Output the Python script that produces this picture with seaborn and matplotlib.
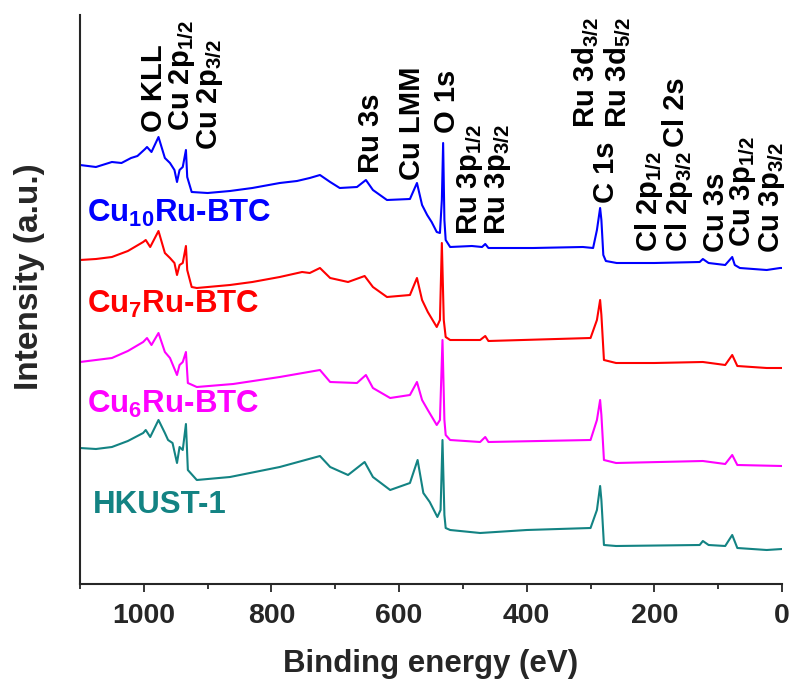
import matplotlib
matplotlib.use("Agg")
import matplotlib.pyplot as plt
import seaborn as sns
import pandas as pd
from matplotlib.ticker import MultipleLocator

sns.set_style("ticks")
plt.rcParams['font.family'] = ['Liberation Sans', 'DejaVu Sans']
plt.rcParams['font.weight'] = 'bold'
plt.rcParams['mathtext.fontset'] = 'custom'
plt.rcParams['mathtext.rm'] = 'Liberation Sans:bold'
plt.rcParams['mathtext.it'] = 'Liberation Sans:bold'
plt.rcParams['mathtext.bf'] = 'Liberation Sans:bold'

# ---------------- data (binding energy in eV, stacked intensity in a.u.) -------------
series_names = ["Cu$_{10}$Ru-BTC", "Cu$_7$Ru-BTC", "Cu$_6$Ru-BTC", "HKUST-1"]
series_colors = ["#0000FF", "#FF0000", "#FF00FF", "#138383"]

cu10_energy = [1100, 1075, 1050, 1035, 1020, 1010, 998, 995, 988, 977, 967, 959, 952, 948, 944,
               939, 934, 932, 925, 900, 865, 830, 787, 760, 740, 724, 708, 693, 666, 652, 641,
               619, 583, 572, 564, 556, 549, 541, 536, 533, 531, 529, 527, 520, 486, 470, 465,
               460, 390, 312, 296, 290, 285, 283, 280, 276, 259, 200, 129, 124, 115, 89, 78, 74,
               66, 24, 3, 0]
cu10_int = [419, 417, 422, 421, 426, 428, 435, 437, 432, 447, 426, 421, 414, 402, 414,
            417, 434, 407, 392, 391, 393, 396, 401, 403, 406, 409, 402, 396, 397, 404, 394,
            384, 385, 401, 379, 369, 362, 352, 351, 384, 441, 364, 344, 337, 338, 337, 340,
            336, 336, 337, 336, 354, 376, 364, 329, 323, 321, 321, 322, 325, 321, 319, 327, 319,
            316, 314, 316, 316]

cu7_energy = [1100, 1075, 1050, 1025, 1001, 997, 990, 977, 967, 959, 952, 948, 944, 939, 934,
              932, 925, 917, 865, 830, 787, 752, 740, 724, 708, 680, 654, 641, 619, 583, 572,
              564, 555, 541, 536, 533, 530, 527, 520, 473, 465, 460, 300, 290, 285, 283, 279,
              260, 200, 124, 89, 78, 70, 24, 0]
cu7_int = [324, 325, 327, 333, 342, 344, 337, 353, 331, 326, 321, 309, 319, 321, 338,
           314, 297, 296, 299, 302, 307, 312, 311, 316, 306, 302, 308, 297, 287, 289, 306,
           284, 272, 257, 264, 341, 264, 247, 244, 244, 248, 243, 246, 264, 284, 269, 224,
           221, 221, 222, 219, 229, 218, 216, 216]

cu6_energy = [1100, 1075, 1050, 1025, 1001, 995, 988, 977, 967, 959, 948, 944, 939, 934, 931,
              917, 860, 787, 724, 708, 666, 652, 641, 614, 583, 572, 564, 555, 541, 536, 532,
              529, 527, 520, 473, 465, 460, 300, 290, 285, 283, 279, 260, 124, 89, 78, 70, 0]
cu6_int = [222, 224, 226, 233, 242, 246, 239, 251, 232, 226, 209, 219, 222, 232, 201,
           197, 200, 207, 214, 202, 201, 209, 196, 186, 189, 202, 184, 174, 159, 164, 244,
           164, 149, 144, 142, 147, 142, 144, 164, 184, 169, 124, 121, 123, 120, 129, 119, 118]

hk_energy = [1100, 1075, 1050, 1025, 1001, 997, 990, 977, 967, 962, 955, 948, 944, 939, 934,
             931, 917, 865, 787, 724, 708, 680, 654, 641, 614, 583, 571, 562, 552, 540, 535,
             532, 529, 527, 520, 473, 400, 300, 290, 285, 283, 279, 260, 129, 124, 115, 89, 78,
             70, 24, 0]
hk_int = [136, 135, 137, 143, 151, 154, 147, 164, 151, 144, 141, 121, 137, 134, 160,
          114, 104, 107, 117, 128, 117, 109, 122, 107, 94, 101, 124, 91, 82, 67, 74,
          144, 69, 56, 54, 51, 54, 56, 74, 98, 84, 39, 38, 39, 43, 39, 38, 49,
          36, 34, 35]

peak_labels = ["O KLL", "Cu 2p$_{1/2}$", "Cu 2p$_{3/2}$", "Ru 3s", "Cu LMM", "O 1s",
               "Ru 3p$_{1/2}$", "Ru 3p$_{3/2}$", "Ru 3d$_{3/2}$", "C 1s", "Ru 3d$_{5/2}$",
               "Cl 2p$_{1/2}$", "Cl 2s", "Cl 2p$_{3/2}$", "Cu 3s", "Cu 3p$_{1/2}$", "Cu 3p$_{3/2}$"]

x_ticks = [0, 200, 400, 600, 800, 1000]

# ---------------- layout (not data) ----------------
label_x = [1006, 964, 920, 666, 602, 547, 513, 469, 332, 298, 281, 234, 188, 187, 125, 85, 39]
label_y = [452, 453, 434, 411, 404, 451, 349, 349, 456, 381, 456, 332, 437, 332, 332, 337, 331]
name_x = [1089, 1089, 1089, 1080]
name_y = [362, 271, 171, 71]

frames = []
for name, e, i in zip(series_names,
                      [cu10_energy, cu7_energy, cu6_energy, hk_energy],
                      [cu10_int, cu7_int, cu6_int, hk_int]):
    frames.append(pd.DataFrame({"energy": e, "intensity": i, "sample": name}))
df = pd.concat(frames, ignore_index=True)

fig = plt.figure(figsize=(7.92, 6.87), dpi=100)
ax = fig.add_axes([80 / 792, (687 - 584) / 687, 702 / 792, 569 / 687])

sns.lineplot(data=df, x="energy", y="intensity", hue="sample", hue_order=series_names,
             palette=series_colors, estimator=None, sort=True, linewidth=1.5,
             legend=False, ax=ax)

ax.set_xlim(1100, 0)
ax.set_ylim(0, 569)
ax.set_xticks(x_ticks)
ax.xaxis.set_minor_locator(MultipleLocator(100))
ax.set_yticks([])
for s in ["top", "right"]:
    ax.spines[s].set_visible(False)
for s in ["left", "bottom"]:
    ax.spines[s].set_linewidth(1.5)
ax.tick_params(axis="x", which="major", direction="out", length=6, width=1.3,
               labelsize=20.5, pad=8)
ax.tick_params(axis="x", which="minor", direction="out", length=3.5, width=1.3)
for t in ax.get_xticklabels():
    t.set_fontweight("bold")

ax.set_xlabel("Binding energy (eV)", fontsize=22.5, fontweight="bold", labelpad=14)
ax.set_ylabel("Intensity (a.u.)", fontsize=24, fontweight="bold")
ax.yaxis.set_label_coords(-0.05, 0.54)

for txt, x, y in zip(peak_labels, label_x, label_y):
    ax.text(x, y, txt, rotation=90, ha="left", va="bottom", fontsize=21,
            fontweight="bold", color="black")

for txt, x, y, c in zip(series_names, name_x, name_y, series_colors):
    ax.text(x, y, txt, ha="left", va="baseline", fontsize=22.5, fontweight="bold", color=c)

fig.savefig("out.png", dpi=100)
